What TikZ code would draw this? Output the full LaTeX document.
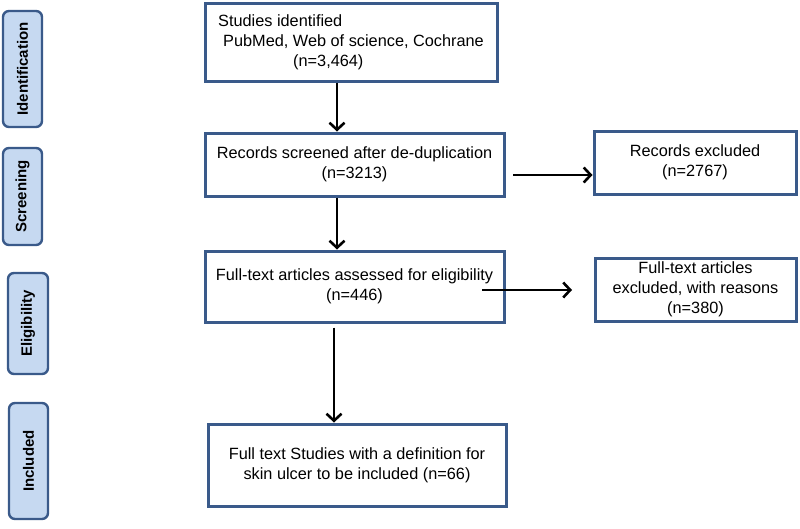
\documentclass[tikz,border=0pt]{standalone}
\usepackage{fontspec}
\setmainfont{Liberation Sans}
\usetikzlibrary{arrows.meta}
\definecolor{boxblue}{HTML}{3A5A8A}
\definecolor{stagefill}{HTML}{C6D9F1}
\tikzset{flowbox/.style={draw=boxblue, line width=3pt, align=center, inner sep=0pt,
   font=\fontsize{16.3}{20}\selectfont},
 stage/.style={draw=boxblue, fill=stagefill, line width=2.4pt, rounded corners=6pt,
   rotate=90, inner sep=0pt, font=\fontsize{15}{18}\selectfont\bfseries},
 arr/.style={line width=2.7pt, -{Straight Barb[length=7pt,width=15pt,line width=2.6pt]}},
 }

\begin{document}
\begin{tikzpicture}[x=1pt, y=-1pt]
    \useasboundingbox (0,0) rectangle (800,528);
    % stage labels down the left side
    \foreach \name/\txt/\x/\y/\len/\thick in {sid/Identification/22.5/69/116/39,
        sscr/Screening/22.5/196.5/97/39, selig/Eligibility/28/323.5/101/40,
        sincl/Included/28.5/461/116/39} {
        \node[stage, minimum width=\len, minimum height=\thick] (\name) at (\x,\y) {\txt};
    }
    % main column
    \node[flowbox, align=left, minimum width=292, minimum height=78] (ident) at (351,42)
        {Studies identified\\\hspace*{5pt}PubMed, Web of science, Cochrane\\\hspace*{75pt}(n=3,464)};
    \node[flowbox, minimum width=299, minimum height=63] (screen) at (354.5,164.5)
        {Records screened after de-duplication\\(n=3213)};
    \node[flowbox, minimum width=299, minimum height=71] (elig) at (354.5,286.5)
        {Full-text articles assessed for eligibility\\(n=446)};
    \node[flowbox, minimum width=298, minimum height=82] (incl) at (357,465)
        {Full text Studies with a definition for\\skin ulcer to be included (n=66)};
    % exclusions
    \node[flowbox, minimum width=202, minimum height=63] (excl) at (695,162.5)
        {Records excluded\\(n=2767)};
    \node[flowbox, minimum width=201, minimum height=63] (ftexcl) at (695.5,289.5)
        {Full-text articles\\excluded, with reasons\\(n=380)};
    \coordinate (scrout) at (513,175);
    \coordinate (eligout) at (482,290);
    \coordinate (eligend) at (572,290);
    \draw[arr] (ident.south -| 337,0) -- (screen.north -| 337,0);
    \draw[arr] (screen.south -| 337,0) -- (elig.north -| 337,0);
    \draw[arr, shorten <=4pt] (elig.south -| 334,0) -- (incl.north -| 334,0);
    \draw[arr] (scrout) -- (excl.west |- scrout);
    \draw[arr] (eligout) -- (eligend);
\end{tikzpicture}
\end{document}
